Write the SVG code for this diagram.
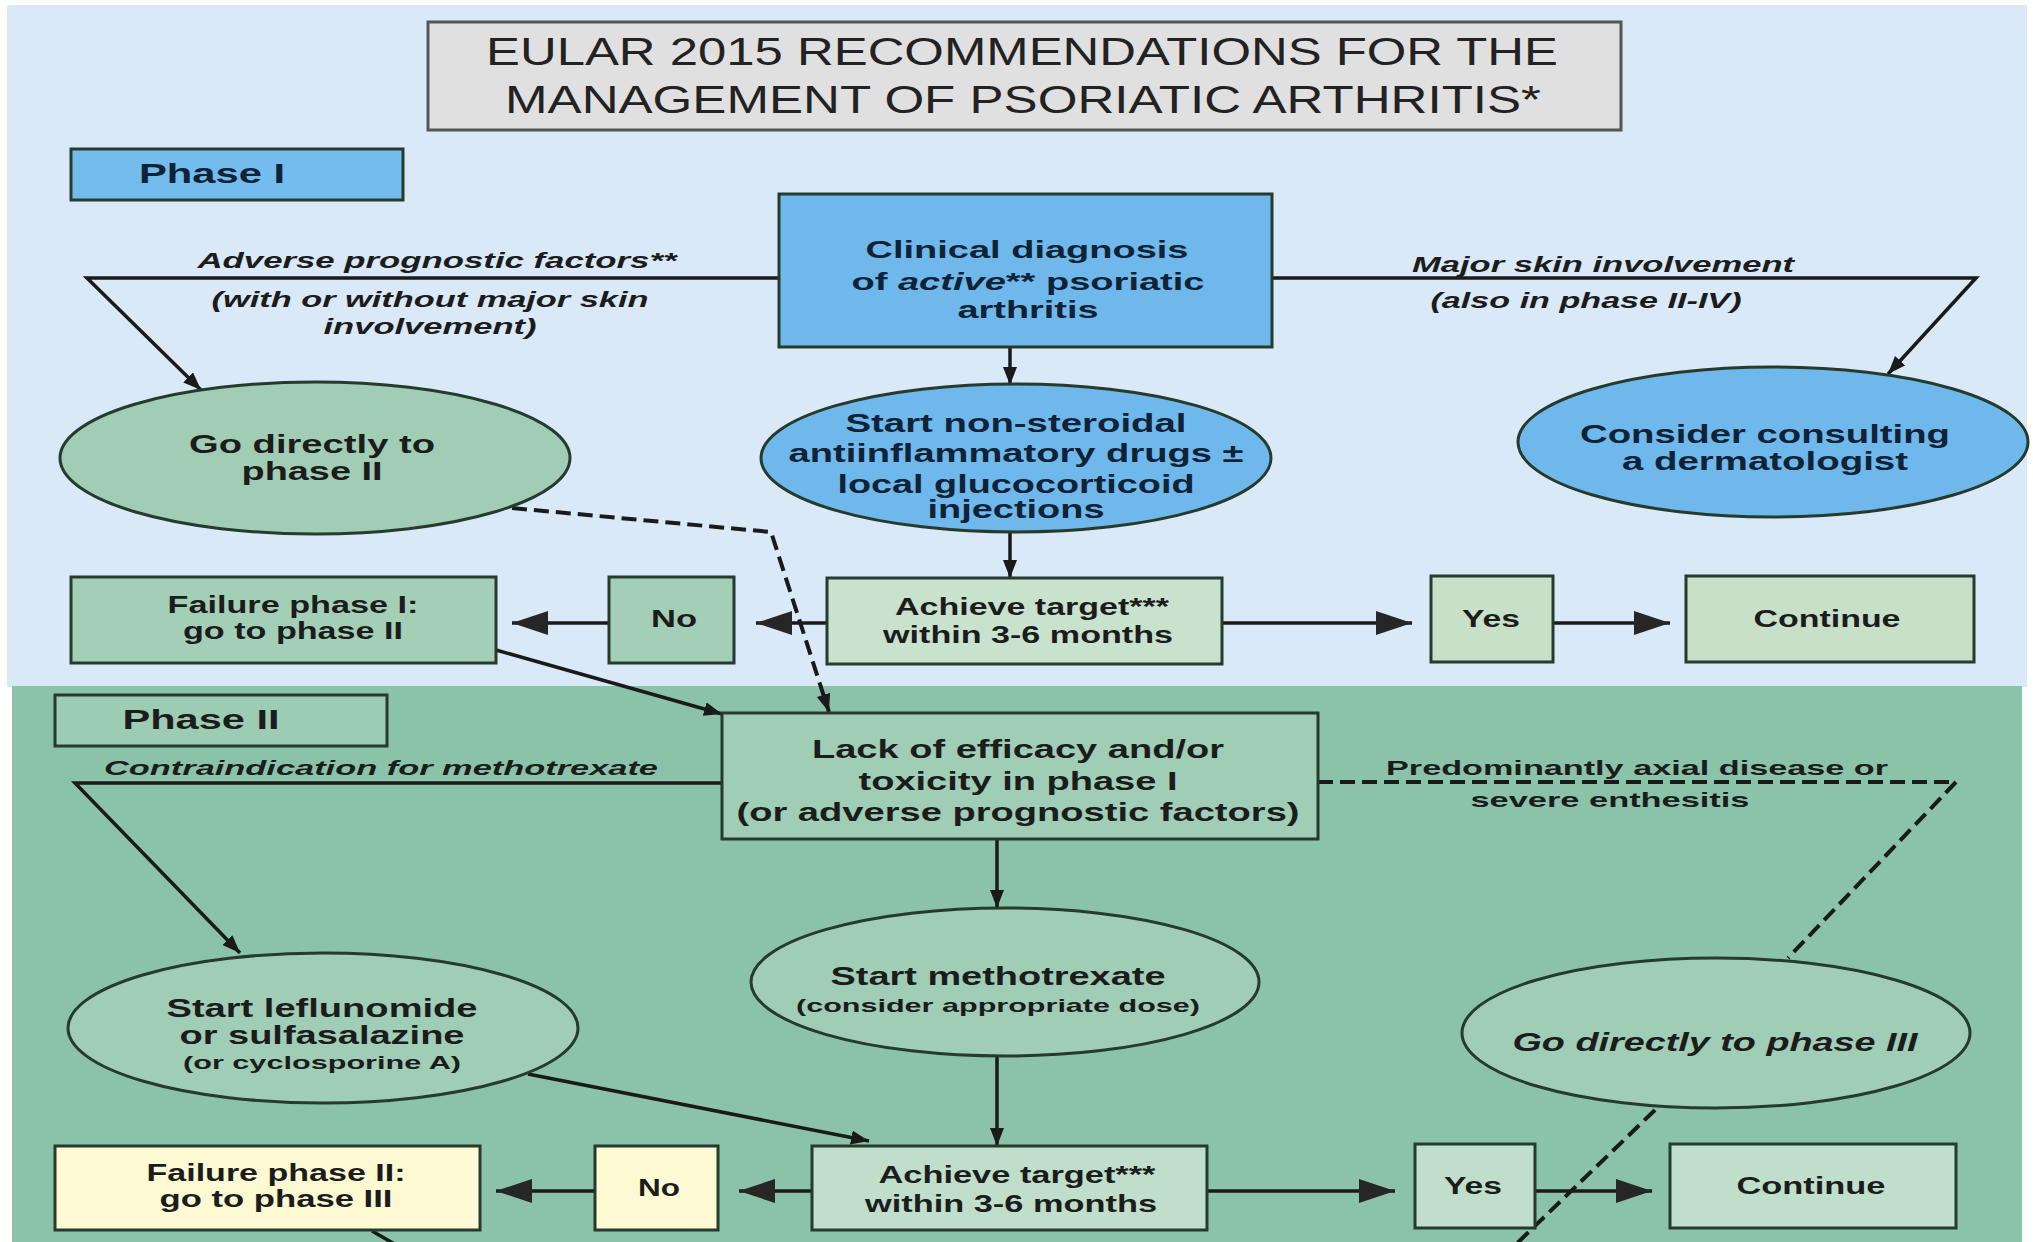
<svg xmlns="http://www.w3.org/2000/svg" width="2033" height="1242" viewBox="0 0 2033 1242">
<defs>
<marker id="big" markerUnits="userSpaceOnUse" markerWidth="40" markerHeight="26" refX="36" refY="12" orient="auto"><path d="M0,0 L36,12 L0,24 z" fill="#262626"/></marker>
<marker id="sm" markerUnits="userSpaceOnUse" markerWidth="20" markerHeight="16" refX="18" refY="7" orient="auto"><path d="M0,0 L18,7 L0,14 z" fill="#1a1a1a"/></marker>
</defs>
<style>
.t{font-family:"Liberation Sans",Arial,sans-serif;font-weight:bold;fill:#1c1c1c;text-anchor:middle}
.tb{fill:#0f2236}
.it{font-style:italic}
.box{stroke:#263a2e;stroke-width:3}
.ln{fill:none;stroke:#1a1a1a;stroke-width:3.5}
.dl{fill:none;stroke:#1a1a1a;stroke-width:4;stroke-dasharray:15 7}
.title{font-family:"Liberation Sans",Arial,sans-serif;font-weight:normal;fill:#222;text-anchor:middle;font-size:39px}
</style>
<rect x="0" y="0" width="2033" height="1242" fill="#ffffff"/>
<rect x="7" y="5" width="2020" height="682" fill="#d9e9f7"/>
<rect x="12" y="686" width="2010" height="556" fill="#8ac3a9"/>

<g id="title">
<rect x="428" y="22" width="1193" height="108" fill="#e0e0e0" stroke="#555" stroke-width="3"/>
<text class="title" x="1022" y="65" textLength="1072" lengthAdjust="spacingAndGlyphs">EULAR 2015 RECOMMENDATIONS FOR THE</text>
<text class="title" x="1023" y="113" textLength="1036" lengthAdjust="spacingAndGlyphs">MANAGEMENT OF PSORIATIC ARTHRITIS*</text>
</g>

<g id="connectors">
<line class="ln" x1="1010" y1="347" x2="1010" y2="385" marker-end="url(#sm)"/>
<line class="ln" x1="1010" y1="532" x2="1010" y2="578" marker-end="url(#sm)"/>
<polyline class="ln" points="779,278 87,278 201,390" marker-end="url(#sm)"/>
<polyline class="ln" points="1272,278 1976,278 1888,374" marker-end="url(#sm)"/>
<line class="ln" x1="827" y1="623" x2="756" y2="623" marker-end="url(#big)"/>
<line class="ln" x1="609" y1="623" x2="512" y2="623" marker-end="url(#big)"/>
<line class="ln" x1="1222" y1="623" x2="1412" y2="623" marker-end="url(#big)"/>
<line class="ln" x1="1553" y1="623" x2="1670" y2="623" marker-end="url(#big)"/>
<polyline class="dl" points="512,508 771,532 829,712" marker-end="url(#sm)"/>
<line class="ln" x1="496" y1="650" x2="722" y2="714" marker-end="url(#sm)"/>
<polyline class="ln" points="721,783 75,783 240,953" marker-end="url(#sm)"/>
<line class="ln" x1="997" y1="839" x2="997" y2="908" marker-end="url(#sm)"/>
<line class="ln" x1="997" y1="1057" x2="997" y2="1146" marker-end="url(#sm)"/>
<line class="ln" x1="528" y1="1074" x2="869" y2="1141" marker-end="url(#sm)"/>
<line class="ln" x1="812" y1="1191" x2="739" y2="1191" marker-end="url(#big)"/>
<line class="ln" x1="595" y1="1191" x2="496" y2="1191" marker-end="url(#big)"/>
<line class="ln" x1="1207" y1="1191" x2="1395" y2="1191" marker-end="url(#big)"/>
<line class="ln" x1="1535" y1="1191" x2="1652" y2="1191" marker-end="url(#big)"/>
<polyline class="dl" points="1318,782 1956,782 1788,958"/>
<line class="dl" x1="1655" y1="1110" x2="1508" y2="1252"/>
<line class="ln" x1="372" y1="1231" x2="405" y2="1250"/>
</g>

<g id="labels">
<text class="t it" font-size="22" x="437" y="268" textLength="479" lengthAdjust="spacingAndGlyphs">Adverse prognostic factors**</text>
<text class="t it" font-size="22" x="430" y="307" textLength="437" lengthAdjust="spacingAndGlyphs">(with or without major skin</text>
<text class="t it" font-size="22" x="430" y="334" textLength="213" lengthAdjust="spacingAndGlyphs">involvement)</text>
<text class="t it" font-size="22" x="1603" y="272" textLength="382" lengthAdjust="spacingAndGlyphs">Major skin involvement</text>
<text class="t it" font-size="22" x="1586" y="308" textLength="311" lengthAdjust="spacingAndGlyphs">(also in phase II-IV)</text>
<text class="t it" font-size="21" x="381" y="775" textLength="554" lengthAdjust="spacingAndGlyphs">Contraindication for methotrexate</text>
<text class="t" font-size="21" x="1637" y="775" textLength="502" lengthAdjust="spacingAndGlyphs">Predominantly axial disease or</text>
<text class="t" font-size="21" x="1610" y="807" textLength="279" lengthAdjust="spacingAndGlyphs">severe enthesitis</text>
</g>

<g id="phase1">
<rect class="box" x="71" y="149" width="332" height="51" fill="#72bcee"/>
<text class="t tb" font-size="28" x="212" y="183" textLength="146" lengthAdjust="spacingAndGlyphs">Phase I</text>
</g>

<g id="clinical">
<rect class="box" x="779" y="194" width="493" height="153" fill="#6fb8eb"/>
<text class="t tb" font-size="24" x="1027" y="258" textLength="323" lengthAdjust="spacingAndGlyphs">Clinical diagnosis</text>
<text class="t tb" font-size="24" x="1028" y="290" textLength="353" lengthAdjust="spacingAndGlyphs">of <tspan font-style="italic">active</tspan>** psoriatic</text>
<text class="t tb" font-size="24" x="1028" y="318" textLength="141" lengthAdjust="spacingAndGlyphs">arthritis</text>
</g>

<g id="godirect2">
<ellipse class="box" cx="315" cy="458" rx="255" ry="76" fill="#a0cdb4"/>
<text class="t" font-size="25" x="312" y="453" textLength="246" lengthAdjust="spacingAndGlyphs">Go directly to</text>
<text class="t" font-size="25" x="312" y="480" textLength="141" lengthAdjust="spacingAndGlyphs">phase II</text>
</g>

<g id="nsaid">
<ellipse class="box" cx="1016" cy="458" rx="255" ry="74" fill="#6fb8eb"/>
<text class="t tb" font-size="25" x="1016" y="432" textLength="341" lengthAdjust="spacingAndGlyphs">Start non-steroidal</text>
<text class="t tb" font-size="25" x="1016" y="462" textLength="455" lengthAdjust="spacingAndGlyphs">antiinflammatory drugs ±</text>
<text class="t tb" font-size="25" x="1016" y="493" textLength="357" lengthAdjust="spacingAndGlyphs">local glucocorticoid</text>
<text class="t tb" font-size="25" x="1016" y="518" textLength="177" lengthAdjust="spacingAndGlyphs">injections</text>
</g>

<g id="derm">
<ellipse class="box" cx="1773" cy="442" rx="255" ry="75" fill="#6fb8eb"/>
<text class="t tb" font-size="25" x="1765" y="443" textLength="370" lengthAdjust="spacingAndGlyphs">Consider consulting</text>
<text class="t tb" font-size="25" x="1765" y="470" textLength="286" lengthAdjust="spacingAndGlyphs">a dermatologist</text>
</g>

<g id="fail1">
<rect class="box" x="71" y="577" width="425" height="86" fill="#a3cfb6"/>
<text class="t" font-size="23" x="293" y="613" textLength="251" lengthAdjust="spacingAndGlyphs">Failure phase I:</text>
<text class="t" font-size="23" x="293" y="639" textLength="220" lengthAdjust="spacingAndGlyphs">go to phase II</text>
</g>

<g id="no1">
<rect class="box" x="609" y="577" width="125" height="86" fill="#a3cfb6"/>
<text class="t" font-size="23" x="674" y="627" textLength="46" lengthAdjust="spacingAndGlyphs">No</text>
</g>

<g id="target1">
<rect class="box" x="827" y="578" width="395" height="86" fill="#c8e2cd"/>
<text class="t" font-size="23" x="1032" y="615" textLength="274" lengthAdjust="spacingAndGlyphs">Achieve target***</text>
<text class="t" font-size="23" x="1028" y="643" textLength="290" lengthAdjust="spacingAndGlyphs">within 3-6 months</text>
</g>

<g id="yes1">
<rect class="box" x="1431" y="576" width="122" height="86" fill="#c8e0c8"/>
<text class="t" font-size="23" x="1491" y="627" textLength="58" lengthAdjust="spacingAndGlyphs">Yes</text>
</g>

<g id="cont1">
<rect class="box" x="1686" y="576" width="288" height="86" fill="#c8e0c8"/>
<text class="t" font-size="23" x="1827" y="627" textLength="147" lengthAdjust="spacingAndGlyphs">Continue</text>
</g>

<g id="phase2">
<rect class="box" x="55" y="695" width="332" height="51" fill="#9ccdb4"/>
<text class="t" font-size="27" x="201" y="729" textLength="157" lengthAdjust="spacingAndGlyphs">Phase II</text>
</g>

<g id="lack">
<rect class="box" x="722" y="713" width="596" height="126" fill="#9fcdb5"/>
<text class="t" font-size="25" x="1018" y="758" textLength="412" lengthAdjust="spacingAndGlyphs">Lack of efficacy and/or</text>
<text class="t" font-size="25" x="1018" y="790" textLength="319" lengthAdjust="spacingAndGlyphs">toxicity in phase I</text>
<text class="t" font-size="25" x="1018" y="821" textLength="563" lengthAdjust="spacingAndGlyphs">(or adverse prognostic factors)</text>
</g>

<g id="leflunomide">
<ellipse class="box" cx="323" cy="1028" rx="255" ry="75" fill="#9fcdb5"/>
<text class="t" font-size="25" x="322" y="1017" textLength="311" lengthAdjust="spacingAndGlyphs">Start leflunomide</text>
<text class="t" font-size="25" x="322" y="1044" textLength="285" lengthAdjust="spacingAndGlyphs">or sulfasalazine</text>
<text class="t" font-size="18" x="322" y="1069" textLength="278" lengthAdjust="spacingAndGlyphs">(or cyclosporine A)</text>
</g>

<g id="mtx">
<ellipse class="box" cx="1005" cy="982" rx="254" ry="74" fill="#9fcdb5"/>
<text class="t" font-size="26" x="998" y="985" textLength="335" lengthAdjust="spacingAndGlyphs">Start methotrexate</text>
<text class="t" font-size="19" x="998" y="1012" textLength="404" lengthAdjust="spacingAndGlyphs">(consider appropriate dose)</text>
</g>

<g id="godirect3">
<ellipse class="box" cx="1716" cy="1033" rx="254" ry="75" fill="#9fcdb5"/>
<text class="t it" font-size="26" x="1715" y="1051" textLength="405" lengthAdjust="spacingAndGlyphs">Go directly to phase III</text>
</g>

<g id="fail2">
<rect class="box" x="55" y="1146" width="425" height="84" fill="#fdf9d2"/>
<text class="t" font-size="23" x="276" y="1181" textLength="259" lengthAdjust="spacingAndGlyphs">Failure phase II:</text>
<text class="t" font-size="23" x="276" y="1207" textLength="233" lengthAdjust="spacingAndGlyphs">go to phase III</text>
</g>

<g id="no2">
<rect class="box" x="595" y="1146" width="123" height="84" fill="#fdf9d2"/>
<text class="t" font-size="23" x="659" y="1196" textLength="42" lengthAdjust="spacingAndGlyphs">No</text>
</g>

<g id="target2">
<rect class="box" x="812" y="1146" width="395" height="84" fill="#bfdfcb"/>
<text class="t" font-size="23" x="1017" y="1183" textLength="277" lengthAdjust="spacingAndGlyphs">Achieve target***</text>
<text class="t" font-size="23" x="1011" y="1212" textLength="292" lengthAdjust="spacingAndGlyphs">within 3-6 months</text>
</g>

<g id="yes2">
<rect class="box" x="1415" y="1144" width="120" height="84" fill="#bfdfcb"/>
<text class="t" font-size="23" x="1473" y="1194" textLength="58" lengthAdjust="spacingAndGlyphs">Yes</text>
</g>

<g id="cont2">
<rect class="box" x="1670" y="1144" width="286" height="84" fill="#bfdfcb"/>
<text class="t" font-size="23" x="1811" y="1194" textLength="149" lengthAdjust="spacingAndGlyphs">Continue</text>
</g>
</svg>
